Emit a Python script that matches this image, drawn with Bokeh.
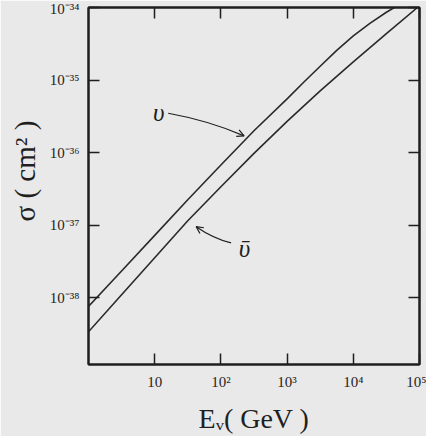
from bokeh.plotting import figure
from bokeh.models import (Range1d, LogAxis, FixedTicker, CustomJSTickFormatter,
                          Label, Arrow, OpenHead, Title)
from bokeh.embed import file_html
from bokeh.resources import INLINE

# Neutrino / antineutrino - nucleon cross sections
e_nu = [1, 3.16, 10, 31.6, 100, 316, 1000, 1780, 3160, 5620, 10000, 17800, 31600, 41700]   # GeV
sigma_nu = [7.59e-39, 2.34e-38, 7.24e-38, 2.24e-37, 6.76e-37, 2.00e-36, 5.50e-36,
            9.33e-36, 1.55e-35, 2.57e-35, 4.07e-35, 6.03e-35, 8.61e-35, 1.0e-34]          # cm^2
e_nubar = [1, 3.16, 10, 31.6, 100, 316, 1000, 3160, 10000, 31600, 93300]                   # GeV
sigma_nubar = [3.39e-39, 1.10e-38, 3.55e-38, 1.15e-37, 3.39e-37, 9.77e-37,
               2.69e-36, 7.08e-36, 1.78e-35, 4.37e-35, 1.0e-34]                            # cm^2

x_ticks = [10, 100, 1000, 10000, 100000]
x_tick_labels = ["10", "10²", "10³", "10⁴", "10⁵"]
y_ticks = [1e-38, 1e-37, 1e-36, 1e-35, 1e-34]
y_tick_labels = ["10⁻³⁸", "10⁻³⁷", "10⁻³⁶", "10⁻³⁵", "10⁻³⁴"]

INK = "#1f1f1f"
PAPER = "#e9e9e9"
SERIF = "Liberation Serif"

p = figure(width=426, height=436, x_axis_type="log", y_axis_type="log",
           x_range=Range1d(1, 1e5), y_range=Range1d(10 ** -38.92, 1e-34),
           output_backend="svg", toolbar_location=None,
           min_border_left=87, min_border_right=7, min_border_top=7, min_border_bottom=71)
p.grid.visible = False
p.background_fill_color = PAPER
p.border_fill_color = PAPER
p.outline_line_color = INK
p.outline_line_width = 2

fmt_code = """
const i = tvals.findIndex(t => Math.abs(Math.log10(t) - Math.log10(tick)) < 1e-6);
return i >= 0 ? tlabels[i] : '';
"""


def style_axis(ax, ticks, labels):
    ax.ticker = FixedTicker(ticks=ticks)
    ax.major_tick_in = 11
    ax.major_tick_out = 0
    ax.minor_tick_in = 0
    ax.minor_tick_out = 0
    ax.axis_line_color = INK
    ax.axis_line_width = 2
    ax.major_tick_line_color = INK
    ax.major_tick_line_width = 1.5
    ax.formatter = CustomJSTickFormatter(args=dict(tvals=ticks, tlabels=labels), code=fmt_code)
    ax.major_label_text_font = SERIF
    ax.major_label_text_font_size = "15px"
    ax.major_label_text_color = INK
    ax.major_label_standoff = 9


style_axis(p.xaxis[0], x_ticks, x_tick_labels)
style_axis(p.yaxis[0], y_ticks, y_tick_labels)

# x-axis title
p.xaxis[0].axis_label = "Eᵥ( GeV )"
p.xaxis[0].axis_label_text_font = SERIF
p.xaxis[0].axis_label_text_font_style = "normal"
p.xaxis[0].axis_label_text_font_size = "28px"
p.xaxis[0].axis_label_text_color = INK
p.xaxis[0].axis_label_standoff = 10

# y-axis title, started part-way up the left border
p.add_layout(Title(text="σ ( cm² )", align="left", offset=143, standoff=12,
                   text_font=SERIF, text_font_style="normal", text_font_size="29px",
                   text_color=INK), "left")

# unlabeled tick rows along the top and right of the frame
top = LogAxis()
style_axis(top, x_ticks, [""] * len(x_ticks))
top.major_label_standoff = 0
p.add_layout(top, "above")
right = LogAxis()
style_axis(right, y_ticks, [""] * len(y_ticks))
right.major_label_standoff = 0
p.add_layout(right, "right")

# cross-section curves
p.line(e_nu, sigma_nu, line_color="#2a2a2a", line_width=1.6)
p.line(e_nubar, sigma_nubar, line_color="#2a2a2a", line_width=1.6)

# curve labels with pointer arrows
p.add_layout(Label(x=11.5, y=3.55e-36, text="υ", text_font=SERIF, text_font_style="italic",
                   text_font_size="25px", text_align="center", text_baseline="middle",
                   text_color=INK))
p.quadratic(x0=[16.0], y0=[3.49e-36], cx=[67.6], cy=[2.75e-36], x1=[224], y1=[1.70e-36],
            line_color=INK, line_width=1.2)
p.add_layout(Arrow(x_start=67.6, y_start=2.75e-36, x_end=224, y_end=1.70e-36,
                   line_alpha=0, end=OpenHead(size=7, line_color=INK, line_width=1.2)))

p.add_layout(Label(x=227, y=4.7e-38, text="ῡ", text_font=SERIF, text_font_style="italic",
                   text_font_size="25px", text_align="center", text_baseline="middle",
                   text_color=INK))
p.quadratic(x0=[142.5], y0=[5.70e-38], cx=[75.8], cy=[6.61e-38], x1=[42.3], y1=[9.55e-38],
            line_color=INK, line_width=1.2)
p.add_layout(Arrow(x_start=75.8, y_start=6.61e-38, x_end=42.3, y_end=9.55e-38,
                   line_alpha=0, end=OpenHead(size=7, line_color=INK, line_width=1.2)))

open("out.html", "w").write(file_html(p, INLINE))
